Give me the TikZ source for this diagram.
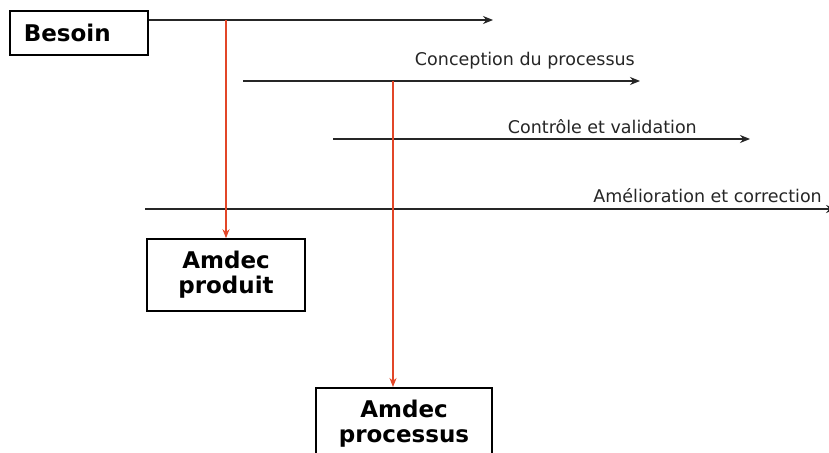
\documentclass[tikz,border=0pt]{standalone}
\usepackage{fontspec}
\setmainfont{DejaVu Sans}
\usetikzlibrary{arrows.meta}
\definecolor{redl}{RGB}{226,70,40}
\begin{document}
\begin{tikzpicture}[x=1pt,y=-1pt,
  bigbox/.style={draw=black, line width=1.6pt, font=\fontsize{23}{25}\selectfont\bfseries, align=center},
  flow/.style={black!85, line width=1.5pt, -{Stealth[length=10pt,width=8pt]}},
  link/.style={redl, line width=1.2pt, -{Stealth[length=9pt,width=7pt]}},
  lab/.style={font=\fontsize{17.5}{19}\selectfont, text=black!85, anchor=base east, inner sep=0pt}]
\clip (0,0) rectangle (829,452);
\fill[white] (0,0) rectangle (829,452);
% boxes
\node[bigbox, anchor=north west, minimum height=44pt, text width=110pt, inner xsep=14pt, align=left] (besoin) at (9,10) {Besoin};
\node[bigbox, minimum width=158pt, minimum height=72pt] (prod) at (226,275) {Amdec\\produit};
\node[bigbox, anchor=north, minimum width=176pt, inner ysep=12pt] (proc) at (404,387) {Amdec\\processus};
% horizontal flows
\coordinate (a1s) at (besoin.east |- 0,20);
\coordinate (a1e) at (493,20);
\draw[flow] (a1s) -- (a1e);
\coordinate (a2s) at (243,81);
\coordinate (a2e) at (640,81);
\draw[flow] (a2s) -- (a2e);
\node[lab] (l2) at (635,65) {Conception du processus};
\coordinate (a3s) at (333,139);
\coordinate (a3e) at (750,139);
\draw[flow] (a3s) -- (a3e);
\node[lab] (l3) at (697,133) {Contrôle et validation};
\coordinate (a4s) at (145,209);
\coordinate (a4e) at (836,209);
\draw[flow] (a4s) -- (a4e);
\node[lab] (l4) at (822,202) {Amélioration et correction};
% red links
\coordinate (r1s) at (prod.north |- a1s);
\draw[link] (r1s) -- (prod.north);
\coordinate (r2s) at (393,81);
\draw[link] (r2s) -- (r2s |- proc.north);
\end{tikzpicture}
\end{document}
